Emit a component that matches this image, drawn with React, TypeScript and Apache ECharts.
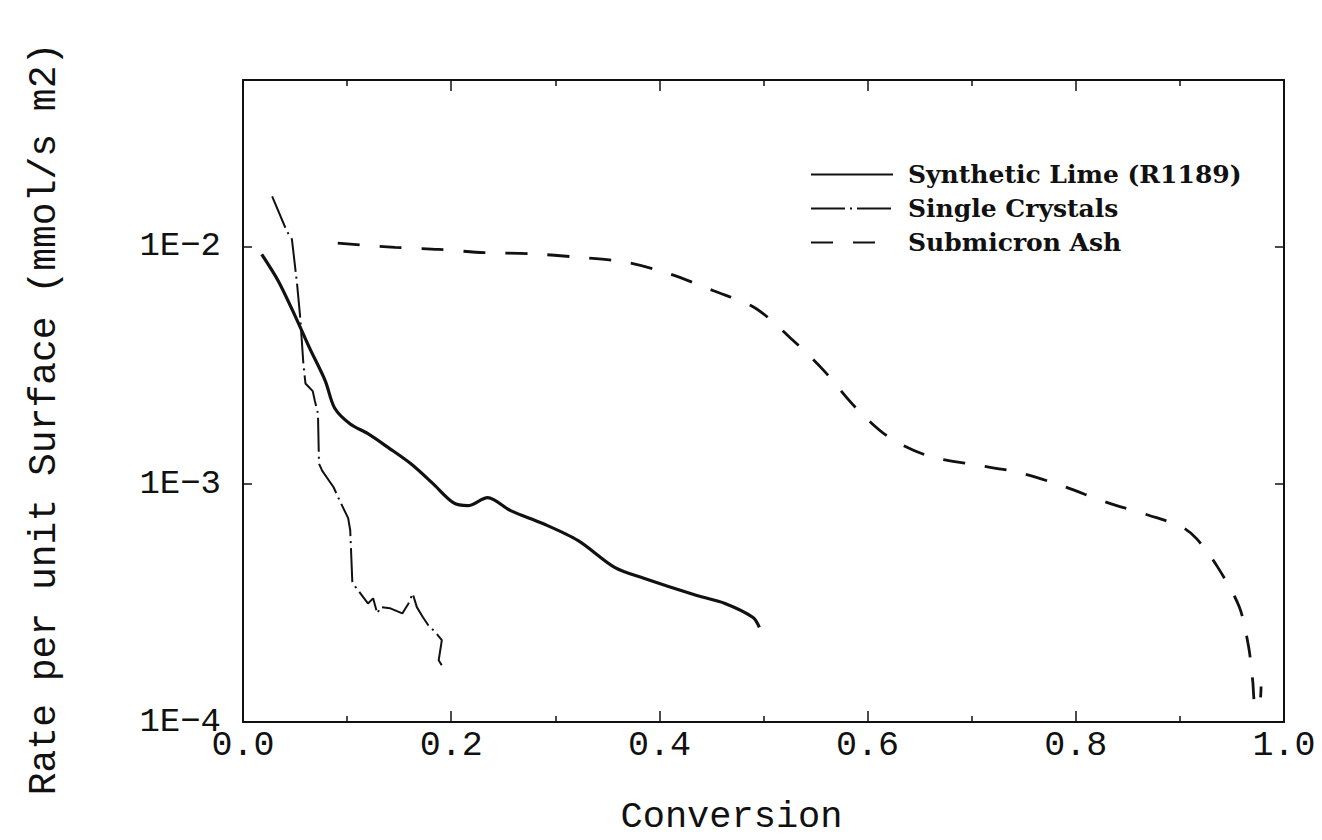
import React, { useEffect, useRef } from "react";
import * as echarts from "echarts";

// Conversion (x) and rate per unit surface (y, mmol/s m2) for each sample
const limeX = [0.018, 0.034, 0.051, 0.064, 0.079, 0.088, 0.103, 0.12, 0.14, 0.161, 0.182, 0.202, 0.216, 0.235, 0.257, 0.288, 0.322, 0.357, 0.385, 0.436, 0.463, 0.49, 0.496];
const limeY = [0.00925, 0.00713, 0.00499, 0.00373, 0.00272, 0.00209, 0.00179, 0.00163, 0.00142, 0.00122, 0.00101, 0.000836, 0.000812, 0.000878, 0.000774, 0.000683, 0.000579, 0.000447, 0.000402, 0.00034, 0.000315, 0.000275, 0.00025];

const crystalX = [0.028, 0.042, 0.047, 0.052, 0.055, 0.058, 0.06, 0.067, 0.069, 0.072, 0.073, 0.076, 0.087, 0.093, 0.101, 0.103, 0.105, 0.108, 0.12, 0.125, 0.129, 0.132, 0.141, 0.153, 0.159, 0.163, 0.167, 0.173, 0.178, 0.185, 0.191, 0.188, 0.192];
const crystalY = [0.0162, 0.0116, 0.0107, 0.0069, 0.005, 0.0032, 0.00265, 0.00246, 0.00224, 0.00198, 0.00122, 0.00114, 0.00097, 0.00085, 0.00072, 0.00064, 0.00039, 0.00037, 0.000315, 0.000331, 0.000286, 0.000304, 0.000301, 0.000286, 0.000315, 0.000347, 0.000304, 0.000275, 0.000255, 0.000238, 0.000221, 0.000182, 0.00017];

const ashX = [0.091, 0.146, 0.188, 0.232, 0.277, 0.321, 0.366, 0.408, 0.452, 0.492, 0.529, 0.558, 0.588, 0.62, 0.659, 0.701, 0.745, 0.788, 0.829, 0.87, 0.902, 0.916, 0.936, 0.957, 0.966, 0.97, 0.972, 0.976, 0.978];
const ashY = [0.0103, 0.0099, 0.0097, 0.0094, 0.0093, 0.009, 0.0086, 0.0077, 0.0065, 0.0055, 0.004, 0.003, 0.00211, 0.00158, 0.00131, 0.00121, 0.00112, 0.00098, 0.00084, 0.00074, 0.00066, 0.00059, 0.00045, 0.000305, 0.000207, 0.000148, 0.000118, 0.000116, 0.000141];

const seriesNames = ["Synthetic Lime (R1189)", "Single Crystals", "Submicron Ash"];
const xTickLabels = ["0.0", "0.2", "0.4", "0.6", "0.8", "1.0"];

const zip = (xs: number[], ys: number[]) => xs.map((x, i) => [x, ys[i]]);

const INK = "#111";
const MONO = "'Liberation Mono', 'DejaVu Sans Mono', monospace";

export default function App() {
  const ref = useRef<HTMLDivElement>(null);

  useEffect(() => {
    document.body.style.margin = "0";
    if (!ref.current) return;
    const chart = echarts.init(ref.current, null, { renderer: "svg" });

    const xAxisBase = {
      type: "value" as const,
      min: 0,
      max: 1,
      interval: 0.2,
      splitLine: { show: false },
      axisLine: { show: true, onZero: false, lineStyle: { color: INK, width: 2 } },
      axisTick: { show: true, inside: true, length: 11, lineStyle: { color: INK, width: 1.5 } },
      minorTick: { show: true, splitNumber: 2, length: 6, lineStyle: { color: INK, width: 1.5 } },
      minorSplitLine: { show: false },
    };

    const yAxisBase = {
      type: "log" as const,
      logBase: 10,
      min: 1e-4,
      max: 0.05,
      splitLine: { show: false },
      axisLine: { show: true, onZero: false, lineStyle: { color: INK, width: 2 } },
      axisTick: { show: true, inside: true, length: 9, lineStyle: { color: INK, width: 1.5 } },
      minorTick: { show: false },
    };

    const powerLabel = (v: number) => {
      const lg = Math.log10(v);
      const e = Math.round(lg);
      if (Math.abs(lg - e) > 1e-6) return "";
      return "1E\u2212" + -e;
    };

    chart.setOption({
      animation: false,
      backgroundColor: "#fff",
      grid: { left: 243, right: 38, top: 80, bottom: 118, outerBoundsMode: "none" },
      legend: {
        data: seriesNames,
        orient: "vertical",
        left: 805,
        top: 157,
        itemWidth: 82,
        itemHeight: 16,
        itemGap: 9,
        itemStyle: { opacity: 0 },
        textStyle: {
          fontFamily: "'DejaVu Serif', 'Liberation Serif', serif",
          fontWeight: "bold",
          fontSize: 25,
          color: INK,
          padding: [0, 0, 0, 10],
        },
      },
      xAxis: [
        {
          ...xAxisBase,
          position: "bottom",
          name: "Conversion",
          nameLocation: "middle",
          nameGap: 76,
          nameTextStyle: { fontFamily: MONO, fontSize: 37, color: INK, padding: [0, 64, 0, 0] },
          axisLabel: {
            show: true,
            margin: 6,
            fontFamily: MONO,
            fontSize: 35,
            color: INK,
            formatter: (v: number) => xTickLabels[Math.round(v / 0.2)] ?? "",
          },
        },
        { ...xAxisBase, position: "top", axisLabel: { show: false } },
      ],
      yAxis: [
        {
          ...yAxisBase,
          position: "left",
          name: "Rate per unit Surface (mmol/s m2)",
          nameLocation: "middle",
          nameGap: 180,
          nameTextStyle: { fontFamily: MONO, fontSize: 38, color: INK, padding: [0, 36, 0, 0] },
          axisLabel: { show: true, margin: 22, fontFamily: MONO, fontSize: 34, color: INK, formatter: powerLabel },
        },
        { ...yAxisBase, position: "right", axisLabel: { show: false } },
      ],
      series: [
        {
          name: seriesNames[0],
          type: "line",
          data: zip(limeX, limeY),
          symbol: "none",
          smooth: 0.3,
          color: INK,
          lineStyle: { color: INK, width: 3.2, type: "solid" },
        },
        {
          name: seriesNames[1],
          type: "line",
          data: zip(crystalX, crystalY),
          symbol: "none",
          smooth: false,
          color: INK,
          lineStyle: { color: INK, width: 2, type: [34, 5, 2, 5] },
        },
        {
          name: seriesNames[2],
          type: "line",
          data: zip(ashX, ashY),
          symbol: "none",
          smooth: 0.3,
          color: INK,
          lineStyle: { color: INK, width: 2.8, type: [22, 20] },
        },
      ],
    });

    return () => chart.dispose();
  }, []);

  return <div ref={ref} style={{ width: 1322, height: 840 }} />;
}
